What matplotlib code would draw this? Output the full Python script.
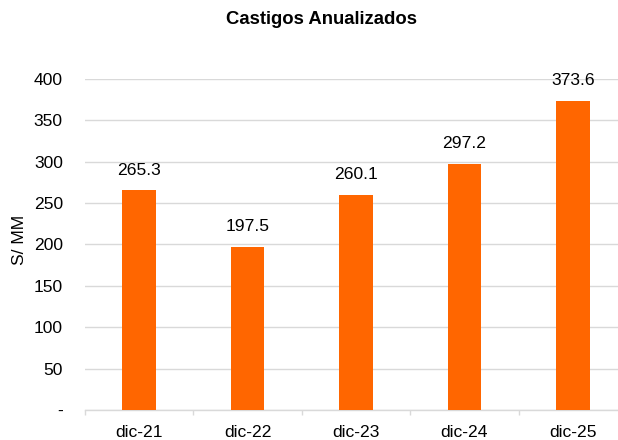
import matplotlib
matplotlib.use('Agg')
import matplotlib.pyplot as plt
import numpy as np

periodos = ['dic-21', 'dic-22', 'dic-23', 'dic-24', 'dic-25']
castigos = [265.3, 197.5, 260.1, 297.2, 373.6]
y_ticks = [0, 50, 100, 150, 200, 250, 300, 350, 400]
y_labels = ['-', '50', '100', '150', '200', '250', '300', '350', '400']

plt.rcParams['font.family'] = ['Liberation Sans', 'DejaVu Sans']

W, H = 618, 440
fig = plt.figure(figsize=(W / 100, H / 100), dpi=100)
# plot area runs past the right edge like in the original export
ax = fig.add_axes([85 / W, 30 / H, (627 - 85) / W, (410 - 79) / H])

x = np.arange(len(periodos))
ax.bar(x, castigos, width=0.31, color='#FF6600', zorder=3)

for xi, v in zip(x, castigos):
    ax.annotate(f'{v:.1f}', (xi, v), xytext=(0, 14.5), textcoords='offset points',
                ha='center', va='center', fontsize=12.6, clip_on=False)

ax.set_xlim(-0.5, len(periodos) - 0.5)
ax.set_ylim(0, 400)
ax.set_yticks(y_ticks)
ax.set_yticklabels(y_labels)
ax.set_xticks(x)
ax.set_xticklabels(periodos)
ax.set_xticks(np.arange(-0.5, len(periodos)), minor=True)

ax.tick_params(axis='y', length=0, pad=16, labelsize=12.6)
ax.tick_params(axis='x', which='major', length=0, pad=10.5, labelsize=12.6)
ax.tick_params(axis='x', which='minor', length=3.6, width=1, color='#d9d9d9', direction='out')

ax.grid(axis='y', color='#d9d9d9', linewidth=1, zorder=0)
for side in ['top', 'right', 'left']:
    ax.spines[side].set_visible(False)
ax.spines['bottom'].set_color('#d9d9d9')
ax.spines['bottom'].set_linewidth(1)

fig.text(20 / W, 1 - 240 / H, 'S/ MM', rotation=90, ha='center', va='center', fontsize=12.6)
fig.text(322 / W, 1 - 20 / H, 'Castigos Anualizados', ha='center', va='center',
         fontsize=13.3, fontweight='bold')

fig.savefig('out.png', dpi=100)
